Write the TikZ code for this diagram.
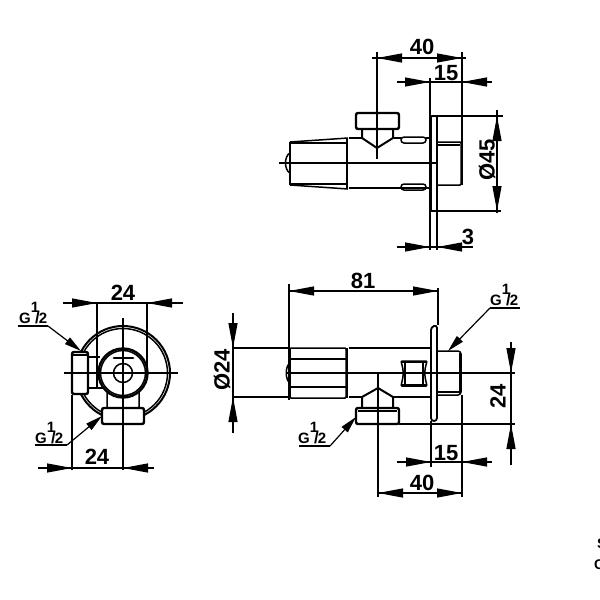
\documentclass[tikz,border=0pt]{standalone}
\usepackage{fontspec}
\setmainfont{Liberation Sans}
\usetikzlibrary{arrows.meta}
\newcommand{\gthread}{G\raisebox{11pt}{1}\kern-4pt{\fontsize{17}{17}\selectfont/}\kern-1pt 2}

\begin{document}
\begin{tikzpicture}[
        x=1pt, y=-1pt,
        part/.style={draw, line width=1.5pt, rounded corners=1pt},
        heavy/.style={draw, line width=2.4pt, rounded corners=2pt},
        dimline/.style={draw, line width=1.2pt},
        dimarrow/.style={draw, line width=1.2pt, -{Triangle[length=25pt, width=9pt]}},
        leader/.style={draw, line width=1.2pt, -{Triangle[length=17pt, width=8pt]}},
        size/.style={font=\bfseries\fontsize{22}{22}\selectfont, inner sep=0pt},
        thread/.style={font=\bfseries\fontsize{15}{15}\selectfont, inner sep=0pt, anchor=base west}
        ]
        \useasboundingbox (0,0) rectangle (600,600);

        % Top view
        \draw [part] (290,142) -- (348,138) (290,185) -- (348,189);
        \draw [part] (290,143) -- (346,143);
        \draw [part] (290,184) -- (346,184);
        \draw [heavy] (290,142) -- (290,185);
        \draw [heavy] (347,138) -- (347,189);
        \draw [part] (290,153) .. controls (284,156) and (284,170) .. (290,173);
        \draw [part] (349,138) -- (362,138) (393,138) -- (401,138) (349,188) -- (431,188) (426,138) -- (431,138);
        \draw [heavy] (356,113) rectangle (399,129);
        \draw [part, line width=2pt, rounded corners=0pt] (362,129) -- (362,138) -- (377,148) -- (393,138) -- (393,129);
        \draw [part, rounded corners=3pt] (401,137) rectangle (426,143);
        \draw [part, rounded corners=3pt] (401,184) rectangle (426,190);
        \draw [part, line width=1.8pt] (431,116) rectangle (437,211);
        \draw [part] (437,142) -- (461,142) -- (461,185) -- (437,185);
        \draw [part] (437,145) -- (460,145);

        % Top view dimensions
        \draw [dimline] (279,163) -- (437,163);
        \draw [dimline] (377,52) -- (377,159);
        \draw [dimline] (462,52) -- (462,185);
        \draw [dimline] (430,78) -- (430,250);
        \draw [dimline] (437,211) -- (437,250);
        \draw [dimline] (437,116) -- (503,116);
        \draw [dimline] (437,211) -- (501,211);
        \draw [dimline] (497,110) -- (497,213);
        \draw [dimline] (372,58) -- (466,58);
        \draw [dimline] (397,82) -- (492,82);
        \draw [dimline] (397,247) -- (473,247);
        \draw [dimarrow] (404,58) -- (377,58);
        \draw [dimarrow] (435,58) -- (462,58);
        \draw [dimarrow] (405,82) -- (430,82);
        \draw [dimarrow] (487,82) -- (462,82);
        \draw [dimarrow] (405,247) -- (430,247);
        \draw [dimarrow] (462,247) -- (437,247);
        \draw [dimarrow] (497,141) -- (497,116);
        \draw [dimarrow] (497,186) -- (497,211);
        \node (topforty) [size] at (422,47) {40};
        \node (topfifteen) [size] at (446,73) {15};
        \node (topthree) [size] at (468,237) {3};
        \node (topdia) [size, rotate=90] at (487,160) {Ø45};

        % Side view
        \draw [part, line width=2pt] (123,373) circle (47);
        \draw [part] (123,373) circle (44.5);
        \draw [part, fill=white] (107,390) -- (107,408) -- (139,408) -- (139,390);
        \draw [heavy, fill=white] (123,373) circle (24.5);
        \draw [part] (123,373) circle (22.5);
        \draw [part] (123,373) circle (9.5);
        \draw [line width=2.8pt, line cap=round] (114,358) -- (133,358);
        \draw [part] (88,357) -- (100,357) (88,388) -- (104,388);
        \draw [heavy, fill=white] (72,352) rectangle (88,394);
        \draw [part] (73,355) -- (87,355);
        \draw [heavy, fill=white] (102,408) rectangle (144,424);

        % Side view dimensions
        \draw [dimline] (64,373) -- (178,373);
        \draw [dimline] (123,318) -- (123,470);
        \draw [dimline] (97,303) -- (97,388);
        \draw [dimline] (147,303) -- (147,370);
        \draw [dimline] (72,395) -- (72,470);
        \draw [dimline] (63,303) -- (183,303);
        \draw [dimline] (38,468) -- (154,468);
        \draw [dimarrow] (72,303) -- (97,303);
        \draw [dimarrow] (172,303) -- (147,303);
        \draw [dimarrow] (47,468) -- (72,468);
        \draw [dimarrow] (148,468) -- (123,468);
        \node (sidetop) [size] at (123,293) {24};
        \node (sidebottom) [size] at (97,457) {24};
        \draw [leader] (48,326) -- (81,351);
        \draw [dimline] (18,326) -- (48,326);
        \draw [leader] (67,445) -- (102,416);
        \draw [dimline] (35,445) -- (67,445);
        \node (sideupper) [thread] at (19,323) {\gthread};
        \node (sidelower) [thread] at (35,443) {\gthread};

        % Front view
        \draw [part] (290,348) rectangle (346,398);
        \draw [part] (290,359) -- (346,359);
        \draw [part] (290,387) -- (346,387);
        \draw [heavy] (290,348) -- (290,398);
        \draw [heavy] (347,348) -- (347,398);
        \draw [part] (290,363) .. controls (285,366) and (285,380) .. (290,383);
        \draw [part] (349,348) -- (431,348);
        \draw [part] (349,397) -- (362,397) (393,397) -- (431,397);
        \draw [part, rounded corners=1pt] (401,361) .. controls (404,373) .. (401,386) -- (427,386) .. controls (424,373) .. (427,361) -- cycle;
        \draw [heavy] (402,362) -- (426,362);
        \draw [heavy] (402,385) -- (426,385);
        \draw [part, line width=1.2pt] (405,363) -- (405,384) (423,363) -- (423,384);
        \draw [part, line width=2pt, rounded corners=0pt] (362,407) -- (362,397) -- (378,388) -- (393,397) -- (393,407);
        \draw [heavy] (356,408) rectangle (399,424);
        \draw [part] (358,411) -- (397,411);
        \draw [part, line width=1.8pt, rounded corners=3pt] (431,327) -- (437,325) -- (437,421) -- (431,421) -- cycle;
        \draw [part] (438,351) -- (459,351) -- (461,353) -- (461,393) -- (459,395) -- (438,395);
        \draw [heavy] (460,353) -- (460,394);
        \draw [part] (438,392) -- (460,392);

        % Front view dimensions
        \draw [dimline] (286,373) -- (515,373);
        \draw [dimline] (399,424) -- (515,424);
        \draw [dimline] (233,348) -- (290,348);
        \draw [dimline] (233,397) -- (290,397);
        \draw [dimline] (289,284) -- (289,400);
        \draw [dimline] (438,288) -- (438,325);
        \draw [dimline] (378,373) -- (378,497);
        \draw [dimline] (431,421) -- (431,467);
        \draw [dimline] (462,395) -- (462,497);
        \draw [dimline] (289,291) -- (438,291);
        \draw [dimline] (397,462) -- (492,462);
        \draw [dimline] (378,493) -- (462,493);
        \draw [dimline] (233,313) -- (233,433);
        \draw [dimline] (511,342) -- (511,465);
        \draw [dimarrow] (314,291) -- (289,291);
        \draw [dimarrow] (413,291) -- (438,291);
        \draw [dimarrow] (406,462) -- (431,462);
        \draw [dimarrow] (487,462) -- (462,462);
        \draw [dimarrow] (405,493) -- (378,493);
        \draw [dimarrow] (435,493) -- (462,493);
        \draw [dimarrow] (233,323) -- (233,348);
        \draw [dimarrow] (233,422) -- (233,397);
        \draw [dimarrow] (511,348) -- (511,373);
        \draw [dimarrow] (511,449) -- (511,424);
        \node (frontlength) [size] at (363,281) {81};
        \node (frontfifteen) [size] at (446,453) {15};
        \node (frontforty) [size] at (422,483) {40};
        \node (frontdia) [size, rotate=90] at (222,370) {Ø24};
        \node (frontheight) [size, rotate=90] at (498,396) {24};
        \draw [leader] (490,308) -- (448,351);
        \draw [dimline] (490,308) -- (520,308);
        \draw [leader] (330,446) -- (356,417);
        \draw [dimline] (299,446) -- (330,446);
        \node (frontupper) [thread] at (490,305) {\gthread};
        \node (frontlower) [thread] at (298,443) {\gthread};

        % Cut off text at the edge
        \node (edgeS) [anchor=west, inner sep=0pt, font=\bfseries\fontsize{14}{14}\selectfont] at (597,544) {S};
        \node (edgeC) [anchor=west, inner sep=0pt, font=\bfseries\fontsize{14}{14}\selectfont] at (594,565) {C};
\end{tikzpicture}
\end{document}
